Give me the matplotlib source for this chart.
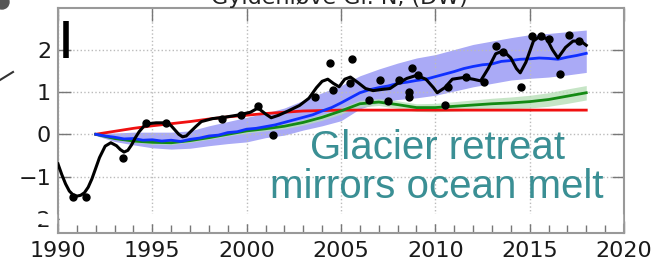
import numpy as np
import matplotlib
matplotlib.use("Agg")
import matplotlib.pyplot as plt
from matplotlib.lines import Line2D
from matplotlib.patches import Rectangle, Ellipse

# smoothed observed front position (black curve)
obs_fit_years = [1990.0, 1990.2, 1990.4, 1990.6, 1990.8, 1991.0, 1991.2, 1991.4, 1991.6, 1991.8,
                 1992.0, 1992.2, 1992.5, 1992.8, 1993.1, 1993.3, 1993.5, 1993.7, 1993.9, 1994.1,
                 1994.3, 1994.55, 1994.8, 1995.2, 1995.8, 1996.0, 1996.2, 1996.4, 1996.6, 1996.8,
                 1997.0, 1997.3, 1997.6, 1998.2,
                 1998.8, 1999.5, 2000.2, 2000.6, 2001.0, 2001.3, 2001.7, 2002.2, 2002.8, 2003.3,
                 2003.7, 2004.0, 2004.3, 2004.6, 2004.9, 2005.2, 2005.5, 2005.9, 2006.3, 2006.7,
                 2007.2, 2007.6, 2008.0, 2008.5, 2009.0, 2009.5, 2009.9, 2010.1, 2010.5, 2010.9,
                 2011.5, 2012.0, 2012.4, 2012.8, 2013.2, 2013.6, 2014.0, 2014.3, 2014.5, 2014.8,
                 2015.2, 2015.5, 2015.9, 2016.2, 2016.5, 2016.9, 2017.3, 2017.7, 2018.0]
obs_fit = [-0.70, -0.95, -1.17, -1.34, -1.43, -1.46, -1.44, -1.38, -1.25, -1.05,
           -0.80, -0.55, -0.28, -0.20, -0.27, -0.36, -0.42, -0.38, -0.25, -0.08,
           0.06, 0.19, 0.25, 0.27, 0.27, 0.20, 0.10, 0.00, -0.06, -0.04,
           0.05, 0.18, 0.30, 0.37,
           0.40, 0.45, 0.52, 0.62, 0.48, 0.39, 0.45, 0.55, 0.68, 0.85,
           1.10, 1.25, 1.30, 1.20, 1.12, 1.30, 1.35, 1.22, 1.08, 1.03,
           1.06, 1.08, 1.20, 1.32, 1.39, 1.30, 1.10, 0.98, 1.10, 1.30,
           1.34, 1.30, 1.26, 1.55, 1.90, 1.97, 1.80, 1.55, 1.45, 1.70,
           2.20, 2.30, 2.26, 2.00, 1.80, 2.05, 2.20, 2.20, 2.10]

# observed points
obs_years = [1990.8, 1991.5, 1993.45, 1994.65, 1995.7, 1998.7, 1999.7, 2000.6, 2001.4, 2003.6,
             2004.4, 2004.6, 2005.6, 2005.5, 2006.5, 2007.05, 2007.5, 2008.1, 2008.6, 2008.6,
             2008.75, 2009.1, 2010.5, 2010.65, 2011.65, 2012.6, 2013.2, 2013.6, 2014.55, 2015.15,
             2015.6, 2016.05, 2016.6, 2017.1, 2017.6]
obs_vals = [-1.47, -1.47, -0.57, 0.26, 0.27, 0.35, 0.46, 0.66, -0.02, 0.88,
            1.69, 1.04, 1.77, 1.20, 0.82, 1.27, 0.78, 1.29, 0.88, 1.00,
            1.57, 1.39, 0.70, 1.12, 1.34, 1.24, 2.08, 1.95, 1.12, 2.32,
            2.32, 2.26, 1.42, 2.34, 2.20]

# model runs
model_years = list(range(1992, 2019))
red_model = [0.00, 0.07, 0.14, 0.20, 0.25, 0.30, 0.36, 0.41, 0.45, 0.49, 0.52, 0.55, 0.56,
             0.57, 0.57, 0.57, 0.57, 0.57, 0.57, 0.57, 0.57, 0.57, 0.57, 0.57, 0.57, 0.57, 0.57]
green_model = [0.00, -0.10, -0.16, -0.19, -0.20, -0.15, -0.08, 0.00, 0.08, 0.13, 0.19, 0.28, 0.40,
               0.55, 0.72, 0.76, 0.70, 0.63, 0.63, 0.66, 0.69, 0.72, 0.74, 0.77, 0.82, 0.90, 0.98]
green_lo = [0.00, -0.12, -0.19, -0.23, -0.24, -0.19, -0.12, -0.04, 0.03, 0.08, 0.13, 0.22, 0.33,
            0.48, 0.64, 0.68, 0.61, 0.54, 0.53, 0.55, 0.57, 0.59, 0.60, 0.62, 0.66, 0.73, 0.81]
green_hi = [0.00, -0.08, -0.13, -0.15, -0.16, -0.11, -0.04, 0.04, 0.13, 0.18, 0.25, 0.34, 0.47,
            0.62, 0.80, 0.84, 0.79, 0.72, 0.73, 0.77, 0.81, 0.85, 0.88, 0.92, 0.98, 1.07, 1.15]
blue_lo = [-0.03, -0.17, -0.25, -0.32, -0.35, -0.33, -0.27, -0.22, -0.18, -0.08, -0.02, 0.10, 0.20,
           0.32, 0.60, 0.74, 0.82, 0.86, 0.92, 1.02, 1.12, 1.20, 1.28, 1.32, 1.35, 1.40, 1.46]
blue_hi = [0.03, 0.03, 0.05, 0.05, 0.05, 0.08, 0.20, 0.30, 0.40, 0.50, 0.62, 0.80, 0.98,
           1.15, 1.38, 1.54, 1.68, 1.80, 1.88, 2.00, 2.12, 2.20, 2.28, 2.35, 2.38, 2.42, 2.46]

blue_years = [1992.0, 1992.5, 1993.0, 1993.5, 1994.0, 1994.5, 1995.0, 1995.5, 1996.0, 1996.5,
              1997.0, 1997.5, 1998.0, 1998.5, 1999.0, 1999.5, 2000.0, 2000.5, 2001.0, 2001.5,
              2002.0, 2002.5, 2003.0, 2003.5, 2004.0, 2004.5, 2005.0, 2005.5, 2006.0, 2006.5,
              2007.0, 2007.5, 2008.0, 2008.5, 2009.0, 2009.5, 2010.0, 2010.5, 2011.0, 2011.5,
              2012.0, 2012.5, 2013.0, 2013.5, 2014.0, 2014.5, 2015.0, 2015.5, 2016.0, 2016.5,
              2017.0, 2017.5, 2018.0]
blue_model = [0.00, -0.04, -0.07, -0.11, -0.10, -0.14, -0.13, -0.16, -0.14, -0.17,
              -0.12, -0.09, -0.04, -0.02, 0.04, 0.06, 0.12, 0.14, 0.18, 0.22,
              0.28, 0.34, 0.40, 0.46, 0.55, 0.63, 0.74, 0.86, 0.98, 1.05,
              1.10, 1.14, 1.20, 1.23, 1.27, 1.30, 1.36, 1.42, 1.48, 1.55,
              1.60, 1.64, 1.66, 1.72, 1.74, 1.77, 1.78, 1.80, 1.79, 1.77,
              1.82, 1.86, 1.91]

# scale bar in top-left corner
bar_x = 1990.42
bar_lo, bar_hi = 1.80, 2.67

W, H = 668, 259
fig = plt.figure(figsize=(W / 100, H / 100), dpi=100)
ax = fig.add_axes([58 / W, 1 - 233 / H, (624 - 58) / W, (233 - 8) / H])

ax.fill_between(model_years, blue_lo, blue_hi, color="#aaaaf6", lw=0, zorder=1)
ax.fill_between(model_years, green_lo, green_hi, color="#b8dfb8", alpha=0.8, lw=0, zorder=2)
ax.plot(model_years, red_model, color="#f01010", lw=2, zorder=3)
ax.plot(model_years, green_model, color="#138a13", lw=2, zorder=3)
ax.plot(blue_years, blue_model, color="#1030ff", lw=2, zorder=4)
ax.plot(obs_fit_years, obs_fit, color="black", lw=2.2, zorder=5)
ax.plot(obs_years, obs_vals, "o", color="black", ms=5, zorder=6)
ax.plot([bar_x, bar_x], [bar_lo, bar_hi], color="black", lw=4, solid_capstyle="butt", zorder=6)

ax.set_xlim(1990, 2020)
ax.set_ylim(-2.33, 2.98)
ax.set_xticks(range(1990, 2021, 5))
ax.set_xticks(range(1990, 2021), minor=True)
ax.set_yticks([-2, -1, 0, 1, 2])
ax.set_yticklabels(["\u22122", "\u22121", "0", "1", "2"])
ax.grid(True, which="major", linestyle=":", color="#bbbbbb", lw=1)
ax.tick_params(which="both", direction="in", top=True, right=True, colors="#777777",
               labelcolor="#1a1a1a", labelsize=16)
ax.tick_params(which="major", length=9, width=1)
ax.tick_params(which="minor", length=6, width=1, top=False)
ax.tick_params(axis="y", which="minor", left=False, right=False)
ax.tick_params(axis="x", pad=6)
ax.tick_params(axis="y", pad=5)
for s in ax.spines.values():
    s.set_color("#999999")
    s.set_linewidth(1.5)

ax.text(2010.1, -0.78, "Glacier retreat\nmirrors ocean melt", color="#3a8f94",
        fontsize=29, family="Liberation Sans", ha="center", va="center",
        linespacing=1.05, zorder=7)

fig.text(339 / W, 1 - 4 / H, "Gyldenløve Gl. N, (DW)", ha="center", va="baseline",
         fontsize=16, color="#222222")

# white strip that hides the lower grid line and half of the -2 label
fig.add_artist(Rectangle((10 / W, 1 - 223 / H), 46 / W, 9 / H, transform=fig.transFigure,
                         color="white", zorder=10))
fig.add_artist(Rectangle((60 / W, 1 - 223 / H), 562 / W, 9 / H, transform=fig.transFigure,
                         color="white", zorder=10))

# bits of the neighbouring panel
fig.add_artist(Line2D([0, 13 / W], [1 - 80 / H, 1 - 72 / H], transform=fig.transFigure,
                      color="#333333", lw=1.5))
fig.add_artist(Ellipse((2 / W, 1 - 2 / H), 14 / W, 14 / H, transform=fig.transFigure,
                       color="#555555"))

fig.savefig("out.png", dpi=100)
